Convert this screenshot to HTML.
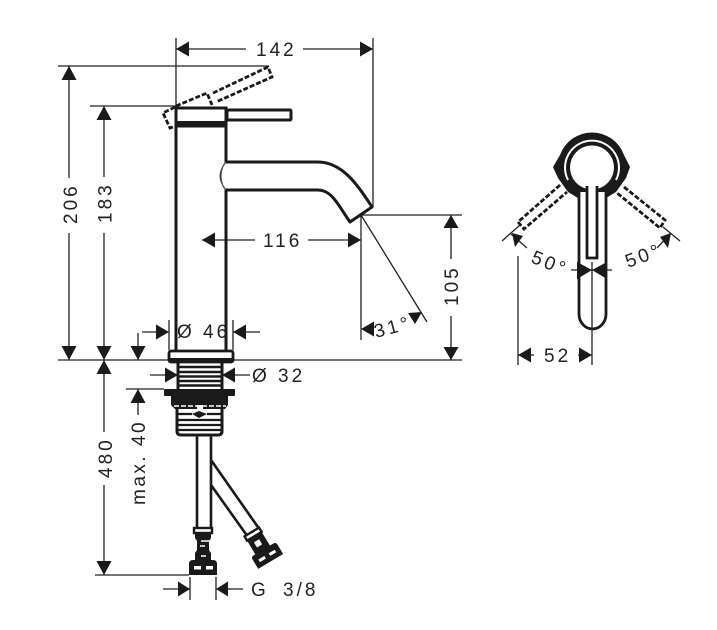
<!DOCTYPE html>
<html><head><meta charset="utf-8"><style>
html,body{margin:0;padding:0;background:#fff;width:717px;height:630px;overflow:hidden}
svg{display:block}
text{font-family:"Liberation Sans",sans-serif;font-size:19px;fill:#222;letter-spacing:3px}
.t{stroke:#222;stroke-width:1.3;fill:none}
.k{stroke:#1a1a1a;stroke-width:3;fill:none;stroke-linejoin:round;stroke-linecap:round}
.d{stroke:#1a1a1a;stroke-width:2.8;fill:none;stroke-dasharray:5 2}
.a{fill:#1a1a1a}
</style></head><body>
<svg width="717" height="630" viewBox="0 0 717 630" xmlns="http://www.w3.org/2000/svg">
<!-- extension lines -->
<path class="t" d="M176 38V110M373 38V207M58 66H268M90 106H176M58 360H462M361 215H462M361 215V340M361 215L427 322M95 575H189M126 389H164M190 577V600M216 577V600M169 320V350M233 320V350"/>
<!-- dim lines -->
<path class="t" d="M176 49H246M303 49H373M69 66V178M69 233V360M104 106V177M104 233V360M104 360V432M104 485V575M138 333V360M138 389V415M202 240H255M308 240H361M451 215V259M451 316V360M142 332H169M233 332H260M150 375H178M222 375H250M163 589H190M216 589H243"/>
<!-- arrowheads -->
<g class="a">
<path d="M176 49l13-7.5v15zM373 49l-13-7.5v15z"/>
<path d="M69 66l-7.5 14h15zM69 360l-7.5-14h15z"/>
<path d="M104 106l-7.5 14h15zM104 360l-7.5-14h15zM104 360l-7.5 14h15zM104 575l-7.5-14h15z"/>
<path d="M138 360l-7.5-14h15zM138 389l-7.5 14h15z"/>
<path d="M169 332l-13-7.5v15zM233 332l13-7.5v15z"/>
<path d="M178 375l-13-7.5v15zM222 375l13-7.5v15z"/>
<path d="M202 240l13-7.5v15zM361 240l-13-7.5v15z"/>
<path d="M451 215l-7.5 13h15zM451 360l-7.5-13h15z"/>
<path d="M361 329l13-7.5v15zM408 313L422 312L415 324Z"/>
<path d="M190 589l-12-7.5v15zM216 589l12-7.5v15z"/>
</g>
<!-- tall body -->
<path class="k" d="M176 127V350M226 127V162M226 190V350"/>
<!-- handle -->
<path d="M176 108H226V126H176Z" fill="#fff" stroke="#1a1a1a" stroke-width="3"/>
<path d="M176 121H226V127H176Z" fill="#1a1a1a"/>
<rect x="227" y="110" width="64" height="10" fill="#fff" stroke="#1a1a1a" stroke-width="3" rx="1"/>
<!-- dashed raised lever -->
<path class="d" d="M175 107L163 113L170 128L176 126M176 106L207 93L212 105M213 93L268 67L272 77L216 102"/>
<!-- spout -->
<path class="k" d="M226 162H318C342 162 358 185 372 207L350 222C338 205 332 190 318 190H226"/>
<path d="M226 162C218 172 218 180 226 190M224 164C220 172 220 180 224 188" fill="none" stroke="#444" stroke-width="1.1"/>
<!-- base flange -->
<rect x="169" y="351" width="64" height="11" rx="2" fill="#fff" stroke="#1a1a1a" stroke-width="2.8"/>
<rect x="170" y="358" width="62" height="4" fill="#1a1a1a"/>
<!-- threads -->
<path class="k" d="M178 362V390M222 362V390"/>
<path stroke="#1a1a1a" stroke-width="2.4" d="M178 367H222M178 372H222M178 376.5H222M178 381H222M178 385.5H222"/>
<rect x="164" y="389" width="71" height="7" rx="1" fill="#1a1a1a"/>
<path d="M171 396H228V405L225 409H175L171 405Z" fill="#1a1a1a"/>
<path d="M174 406H226" stroke="#fff" stroke-width="1.5" stroke-dasharray="5 2"/>
<rect x="197" y="405" width="6" height="6" fill="#fff"/>
<path d="M192 414L199 411L207 414L199 418Z" fill="#1a1a1a"/>
<!-- lower thread -->
<path class="k" d="M177 409V431Q177 435 181 435H218Q222 435 222 431V409"/>
<path stroke="#1a1a1a" stroke-width="2.2" d="M177 414H192M207 414H222M177 420H222M177 425H222M177 430H222"/>
<!-- pipes -->
<path class="k" d="M197 436V528M211 436V528M211 460L260 530M211 485L248 537" style="stroke-width:2.6"/>
<!-- straight connector -->
<rect x="194" y="528" width="18" height="5" fill="#fff" stroke="#1a1a1a" stroke-width="2.4"/>
<path d="M195 533H211V538L209 541V550L211 553V561H195V553L197 550V541L195 538Z" fill="#1a1a1a"/>
<path d="M200 546H205M201 541H209M201 556H206" stroke="#fff" stroke-width="1.5"/>
<path d="M189 564Q189 560 193 560H213Q217 560 217 564V575H189Z" fill="#1a1a1a"/>
<rect x="194" y="566" width="7" height="3.500" fill="#fff"/><rect x="206" y="566" width="7" height="3.500" fill="#fff"/>
<!-- angled connector -->
<g transform="translate(262 548) rotate(-31)">
<rect x="-9" y="-19" width="17" height="5" fill="#fff" stroke="#1a1a1a" stroke-width="2.4"/>
<path d="M-9 -14H8V4H-9Z" fill="#1a1a1a"/>
<path d="M-4 -9H2V-3H-4Z" fill="#fff"/>
<path d="M-14 5Q-14 2 -11 2H12Q15 2 15 5V16H-14Z" fill="#1a1a1a"/>
<rect x="-9" y="8" width="7" height="3" fill="#fff"/><rect x="3" y="8" width="7" height="3" fill="#fff"/>
</g>
<!-- right view -->
<path d="M553 167L560 155A34 34 0 0 1 624 155L630 167L626 178L621 185L616 192L606 198H578L568 192L563 185L558 178Z" fill="#1a1a1a"/>
<path d="M568 180A27 27 0 1 1 616 180" fill="none" stroke="#fff" stroke-width="2"/>
<path d="M579 192V314A13.500 15 0 0 0 606 314V192" fill="#fff" stroke="#1a1a1a" stroke-width="2.8"/>
<circle cx="592" cy="167.500" r="25.500" fill="#1a1a1a"/>
<circle cx="592" cy="167.500" r="22" fill="#fff"/>
<path d="M587 186V258H597V186" fill="#fff" stroke="#1a1a1a" stroke-width="2.8"/>
<path d="M588.500 184H595.500V190H588.500Z" fill="#fff"/>
<path class="d" d="M560 185L518 222L524 229L567 192M624 187L665 220L660 228L617 193"/>
<path class="t" d="M502 241L520 225M511 234L527 248M680 241L663 227M671 233L657 248M592 262V365M518 256V365M571 270H612M518 355H534M578 355H592"/>
<g class="a">
<path d="M512 233L523 236L515 247ZM671 233L660 237L668 248Z"/>
<path d="M577 262L592 270L577 279ZM607 262L592 270L607 279Z"/>
<path d="M518 355L531 347.500V362.500ZM592 355L579 347.500V362.500Z"/>
</g>
<!-- labels -->
<text x="256" y="56">142</text>
<text x="263" y="247">116</text>
<text x="177" y="338">Ø 46</text>
<text x="252" y="382">Ø 32</text>
<text x="251" y="596" style="word-spacing:6px">G 3/8</text>
<text transform="translate(77 224) rotate(-90)">206</text>
<text transform="translate(111.500 223) rotate(-90)">183</text>
<text transform="translate(112 478) rotate(-90)">480</text>
<text transform="translate(145 505) rotate(-90)" style="letter-spacing:2.500px">max. 40</text>
<text transform="translate(458 306) rotate(-90)">105</text>
<text transform="translate(376 338) rotate(-15)">31°</text>
<text transform="translate(530 262) rotate(22)">50°</text>
<text transform="translate(628 268) rotate(-20)">50°</text>
<text x="544" y="362">52</text>
</svg>
</body></html>
